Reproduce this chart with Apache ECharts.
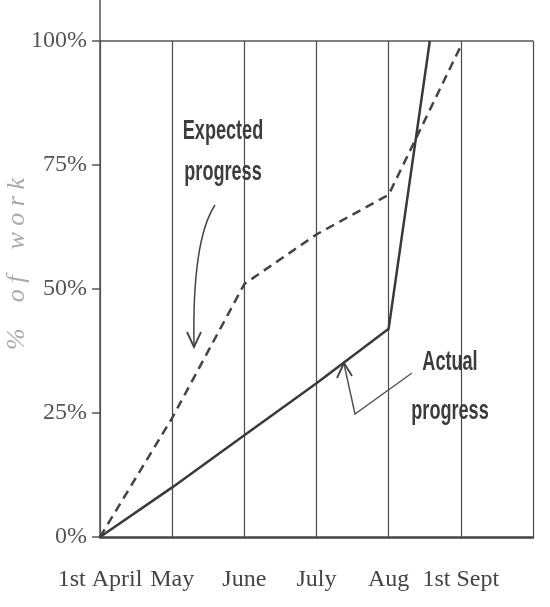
<!DOCTYPE html>
<html>
<head>
<meta charset="utf-8">
<script src="https://cdn.jsdelivr.net/npm/echarts@6/dist/echarts.min.js"></script>
<style>
html,body{margin:0;padding:0;background:#fff;}
#chart{width:550px;height:607px;}
</style>
</head>
<body>
<div id="chart"></div>
<script>
// Data
const monthLabels = ['1st April', 'May', 'June', 'July', 'Aug', '1st Sept', ''];
const yTickLabels = ['0%', '25%', '50%', '75%', '100%'];
const expectedX = [0, 1, 2, 3, 4, 5];
const expectedY = [0, 24, 51, 61, 69, 99];
const actualX = [0, 1, 2, 3, 4, 4.57];
const actualY = [0, 10, 20.5, 31, 42, 100];

const pairs = (xs, ys) => xs.map((x, i) => [x, ys[i]]);

const chart = echarts.init(document.getElementById('chart'));
const serif = '"Liberation Serif", "DejaVu Serif", serif';
const sans = '"Liberation Sans", Arial, sans-serif';

chart.setOption({
  backgroundColor: '#fff',
  animation: false,
  grid: { left: 100, right: 17, top: 41, bottom: 70, outerBoundsMode: 'none', containLabel: false },
  xAxis: [{
    type: 'value', min: 0, max: 6, interval: 1,
    axisLine: { show: true, lineStyle: { color: '#444', width: 2.5 } },
    axisTick: { show: false },
    splitLine: { show: true, lineStyle: { color: '#4a4a4a', width: 1.2 } },
    axisLabel: {
      margin: 31, color: '#444', fontFamily: serif, fontSize: 24,
      formatter: v => monthLabels[Math.round(v)] || ''
    }
  }, {
    type: 'value', min: 0, max: 6, position: 'top',
    axisLine: { show: true, lineStyle: { color: '#555', width: 1.5 } },
    axisTick: { show: false }, axisLabel: { show: false }, splitLine: { show: false }
  }],
  yAxis: {
    type: 'value', min: 0, max: 100, interval: 25,
    name: '%\u2002\u2002o\u2005f\u2002\u2002w\u2005o\u2005r\u2005k',
    nameLocation: 'middle', nameGap: 70, nameRotate: 90, nameMoveOverlap: false,
    nameTextStyle: { color: '#aaa', fontFamily: serif, fontStyle: 'italic', fontSize: 26, padding: [0, 0, 0, 50] },
    axisLine: { show: true, lineStyle: { color: '#555', width: 1.5 } },
    axisTick: { show: true, length: 8, lineStyle: { color: '#555', width: 1.5 } },
    splitLine: { show: false },
    axisLabel: {
      margin: 13, color: '#555', fontFamily: serif, fontSize: 24,
      formatter: v => yTickLabels[Math.round(v / 25)]
    }
  },
  series: [{
    name: 'Expected progress', type: 'line', data: pairs(expectedX, expectedY),
    symbol: 'none', lineStyle: { color: '#444', width: 2.5, type: [9, 6] }
  }, {
    name: 'Actual progress', type: 'line', data: pairs(actualX, actualY),
    symbol: 'none', lineStyle: { color: '#3a3a3a', width: 2.5 }
  }]
});

const axisTop = chart.convertToPixel({ gridIndex: 0 }, [0, 100]);
const txt = { fill: '#3c3c3c', font: 'bold 27px ' + sans, textAlign: 'center' };
chart.setOption({
  graphic: [
    { type: 'line', shape: { x1: axisTop[0], y1: 0, x2: axisTop[0], y2: axisTop[1] }, style: { stroke: '#555', lineWidth: 1.5 } },
    { type: 'text', x: 223, y: 111, scaleX: 0.67, style: Object.assign({ text: 'Expected\nprogress', lineHeight: 41 }, txt) },
    { type: 'text', x: 450, y: 338, scaleX: 0.67, style: Object.assign({ text: 'Actual\nprogress', lineHeight: 49 }, txt) },
    { type: 'bezierCurve', shape: { x1: 215, y1: 205, cpx1: 192, cpy1: 240, x2: 194, y2: 346 }, style: { stroke: '#444', lineWidth: 1.5, fill: null } },
    { type: 'polyline', shape: { points: [[187, 332], [194, 347], [201, 332]] }, style: { stroke: '#444', lineWidth: 1.8, fill: null } },
    { type: 'polyline', shape: { points: [[412, 373], [355, 414], [344, 364]] }, style: { stroke: '#555', lineWidth: 1.5, fill: null } },
    { type: 'polyline', shape: { points: [[337, 378], [344, 363], [352, 376]] }, style: { stroke: '#444', lineWidth: 1.8, fill: null } }
  ]
});
</script>
</body>
</html>
